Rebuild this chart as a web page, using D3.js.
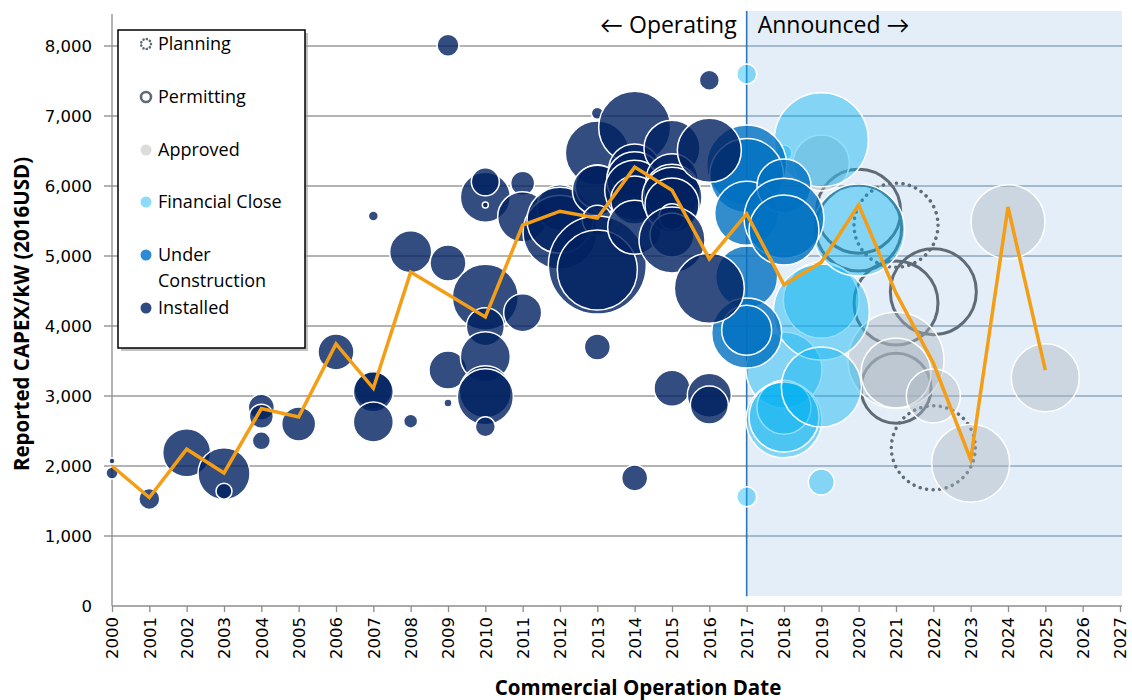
<!DOCTYPE html>
<html>
<head>
<script src="https://d3js.org/d3.v7.min.js"></script>
<style>
	body { margin: 0; background: #fff; }
	text { font-family: 'Open Sans', Lato, sans-serif; fill: #000; }
	.tick text { font-family: 'DejaVu Sans', sans-serif; font-size: 16.5px; }
	.legend text { font-size: 18px; }
</style>
</head>
<body>
<div id="chart"></div>
<script>
	// year, CAPEX per kW (2016 USD), size (MW)
	var installed = [
		[2000, 2070, 9], [2000, 1900, 36],
		[2001, 1530, 110],
		[2002, 2190, 576],
		[2003, 1890, 676], [2003, 1640, 64],
		[2004, 2840, 169], [2004, 2710, 144], [2004, 2360, 81],
		[2005, 2600, 289],
		[2006, 3630, 324],
		[2007, 3090, 361], [2007, 3060, 400], [2007, 2630, 400], [2007, 5570, 25],
		[2008, 5060, 441], [2008, 2640, 49],
		[2009, 8010, 121], [2009, 4900, 324], [2009, 3370, 361], [2009, 2900, 16],
		[2010, 5840, 625], [2010, 6060, 196], [2010, 5730, 9], [2010, 4410, 1089], [2010, 3990, 361],
		[2010, 3560, 625], [2010, 3060, 676], [2010, 2990, 784], [2010, 2560, 100],
		[2011, 6040, 144], [2011, 5560, 625], [2011, 4190, 361],
		[2012, 5690, 529], [2012, 5340, 1369], [2012, 5510, 1089],
		[2013, 7040, 36], [2013, 6470, 1024], [2013, 5990, 484], [2013, 5940, 625], [2013, 5510, 225],
		[2013, 4870, 2401], [2013, 4800, 1600], [2013, 3700, 169],
		[2014, 6840, 1296], [2014, 6230, 676], [2014, 6090, 784], [2014, 5940, 900], [2014, 5800, 576],
		[2014, 5410, 729], [2014, 1830, 169],
		[2015, 6540, 784], [2015, 6090, 676], [2015, 5910, 784], [2015, 5840, 900], [2015, 5730, 729],
		[2015, 5560, 169], [2015, 5300, 484], [2015, 5230, 1089], [2015, 3110, 324],
		[2016, 7510, 100], [2016, 6510, 1024], [2016, 4540, 1225], [2016, 3010, 484], [2016, 2870, 361]
	];
	var underConstruction = [
		[2017, 6300, 1600], [2017, 6150, 1369], [2017, 5610, 1024], [2017, 4700, 961],
		[2017, 3900, 1225], [2017, 3940, 625],
		[2018, 6000, 729], [2018, 5540, 1600], [2018, 5370, 1225]
	];
	var financialClose = [
		[2017, 7600, 100], [2017, 1560, 100],
		[2018, 6470, 64], [2018, 3370, 1444], [2018, 2660, 1444], [2018, 2840, 729], [2018, 2700, 1225],
		[2019, 6660, 2209], [2019, 4370, 1444], [2019, 4200, 2304], [2019, 3130, 1600], [2019, 1770, 169],
		[2020, 5370, 2116]
	];
	var approved = [
		[2019, 6330, 784],
		[2021, 3510, 2304], [2021, 3330, 1225],
		[2022, 3000, 729],
		[2023, 2040, 1521],
		[2024, 5490, 1369],
		[2025, 3260, 1156]
	];
	var permitting = [
		[2020, 5640, 1764], [2020, 5400, 1849],
		[2021, 4330, 1764], [2021, 3110, 1225],
		[2022, 4490, 1849]
	];
	var planning = [
		[2021, 5440, 1764], [2022, 2260, 1764]
	];
	// average CAPEX per year
	var avgYears = [2000, 2001, 2002, 2003, 2004, 2005, 2006, 2007, 2008, 2009, 2010, 2011, 2012,
		2013, 2014, 2015, 2016, 2017, 2018, 2019, 2020, 2021, 2022, 2023, 2024, 2025];
	var avgCapex = [2000, 1550, 2240, 1900, 2820, 2700, 3745, 3110, 4770, 4450, 4130, 5440, 5640,
		5540, 6270, 5940, 4960, 5600, 4590, 4910, 5730, 4470, 3470, 2090, 5700, 3370];
	var yTicks = [0, 1000, 2000, 3000, 4000, 5000, 6000, 7000, 8000];
	var xTicks = d3.range(2000, 2028);
	var legendItems = ["Planning", "Permitting", "Approved", "Financial Close", "Under Construction", "Installed"];

	var width = 1132, height = 700;
	var svg = d3.select("#chart").append("svg")
		.attr("width", width)
		.attr("height", height);

	var x = d3.scaleLinear().domain([2000, 2027]).range([112, 1120]);
	var y = d3.scaleLinear().domain([0, 8500]).range([606, 11]);
	var r = d3.scaleSqrt().domain([0, 2500]).range([0, 50]);

	var right = x(2027) + 2;

	// announced shading
	svg.append("rect")
		.attr("x", x(2017))
		.attr("y", y(8500))
		.attr("width", right - x(2017))
		.attr("height", y(140) - y(8500))
		.attr("fill", "#e4eef8");

	// gridlines: grey on operating side, blue grey on announced side
	var grid = svg.append("g");
	grid.selectAll("line.op")
		.data(yTicks.slice(1))
		.enter().append("line")
		.attr("class", "op")
		.attr("x1", 104).attr("x2", x(2017))
		.attr("y1", function(d){ return y(d); })
		.attr("y2", function(d){ return y(d); })
		.attr("stroke", "#9a9a9a")
		.attr("stroke-width", 1.3);
	grid.selectAll("line.an")
		.data(yTicks.slice(1))
		.enter().append("line")
		.attr("class", "an")
		.attr("x1", x(2017)).attr("x2", right)
		.attr("y1", function(d){ return y(d); })
		.attr("y2", function(d){ return y(d); })
		.attr("stroke", "#8ea7bf")
		.attr("stroke-width", 1.3);

	svg.append("line")
		.attr("x1", x(2017)).attr("x2", x(2017))
		.attr("y1", y(8500)).attr("y2", y(140))
		.attr("stroke", "#2e75b6")
		.attr("stroke-width", 1.6);

	// axes
	var yAxis = d3.axisLeft(y).tickValues(yTicks).tickSize(0).tickPadding(20)
		.tickFormat(d3.format(","));
	var gy = svg.append("g")
		.attr("transform", "translate(" + x(2000) + ",0)")
		.call(yAxis);
	gy.select(".domain").remove();

	var xAxis = d3.axisBottom(x).tickValues(xTicks).tickSize(6).tickFormat(d3.format("d"));
	var gx = svg.append("g")
		.attr("transform", "translate(0," + y(0) + ")")
		.call(xAxis);
	gx.select(".domain").remove();
	gx.selectAll(".tick line").attr("stroke", "#8c8c8c").attr("stroke-width", 1.3);
	gx.selectAll("text")
		.attr("transform", "rotate(-90)")
		.attr("text-anchor", "end")
		.attr("x", -11)
		.attr("y", 0)
		.attr("dy", "0.35em");

	svg.append("line")
		.attr("x1", x(2000)).attr("x2", x(2000))
		.attr("y1", 14).attr("y2", y(0))
		.attr("stroke", "#8c8c8c").attr("stroke-width", 1.3);
	svg.append("line")
		.attr("x1", x(2000)).attr("x2", right)
		.attr("y1", y(0)).attr("y2", y(0))
		.attr("stroke", "#8c8c8c").attr("stroke-width", 1.3);

	// bubbles, drawn in series order
	function bubbles(data, cls, fill, opacity, stroke, strokeWidth, dash) {
		var sel = svg.append("g").attr("class", cls).selectAll("circle")
			.data(data)
			.enter().append("circle")
			.attr("cx", function(d){ return x(d[0]); })
			.attr("cy", function(d){ return y(d[1]); })
			.attr("r", function(d){ return r(d[2]); })
			.attr("fill", fill)
			.attr("fill-opacity", opacity)
			.attr("stroke", stroke)
			.attr("stroke-width", strokeWidth);
		if (dash) {
			sel.attr("stroke-dasharray", dash).attr("stroke-linecap", "round");
		}
	}
	bubbles(planning, "planning", "none", 0, "#5f6b76", 3.5, "0.1 6.5");
	bubbles(permitting, "permitting", "none", 0, "#5f6b76", 3, null);
	bubbles(approved, "approved", "#a9b4be", 0.42, "#ffffff", 1.5, null);
	bubbles(financialClose, "fclose", "#00b0f0", 0.42, "#ffffff", 1.5, null);
	bubbles(underConstruction, "uc", "#0070c0", 0.8, "#ffffff", 1.5, null);
	bubbles(installed, "installed", "#002060", 0.8, "#ffffff", 1.5, null);

	// average line
	var line = d3.line()
		.x(function(d, i){ return x(avgYears[i]); })
		.y(function(d){ return y(d); });
	svg.append("path")
		.datum(avgCapex)
		.attr("d", line)
		.attr("fill", "none")
		.attr("stroke", "#f49e16")
		.attr("stroke-width", 3.5)
		.attr("stroke-linejoin", "miter");

	// operating / announced labels
	svg.append("text")
		.attr("x", x(2017) - 10).attr("y", 33)
		.attr("text-anchor", "end")
		.style("font-size", "23px")
		.text("\u2190 Operating");
	svg.append("text")
		.attr("x", x(2017) + 11).attr("y", 33)
		.style("font-size", "23px")
		.text("Announced \u2192");

	// axis titles
	svg.append("text")
		.attr("x", 638).attr("y", 695)
		.attr("text-anchor", "middle")
		.style("font-size", "20.5px")
		.style("font-weight", "bold")
		.text("Commercial Operation Date");
	svg.append("text")
		.attr("transform", "translate(29,314) rotate(-90)")
		.attr("text-anchor", "middle")
		.style("font-size", "20.5px")
		.style("font-weight", "bold")
		.text("Reported CAPEX/kW (2016USD)");

	// legend
	var legend = svg.append("g").attr("class", "legend");
	legend.append("rect")
		.attr("x", 121).attr("y", 33).attr("width", 187).attr("height", 318)
		.attr("fill", "#9a9a9a").attr("opacity", 0.6);
	legend.append("rect")
		.attr("x", 118).attr("y", 30).attr("width", 187).attr("height", 318)
		.attr("fill", "#fff").attr("stroke", "#000").attr("stroke-width", 1.5);

	var legendY = [44, 97, 150, 202, 255, 308];
	var markers = [
		{fill: "none", stroke: "#5f6b76", dash: "0.1 3.3", sw: 2.6},
		{fill: "none", stroke: "#5f6b76", dash: null, sw: 2.6},
		{fill: "#dcdcdc", stroke: "none", dash: null, sw: 0},
		{fill: "#8ddbf8", stroke: "none", dash: null, sw: 0},
		{fill: "#2f8bd3", stroke: "none", dash: null, sw: 0},
		{fill: "#2f4a80", stroke: "none", dash: null, sw: 0}
	];
	legendItems.forEach(function(name, i){
		var m = markers[i];
		var c = legend.append("circle")
			.attr("cx", 146).attr("cy", legendY[i])
			.attr("r", i < 2 ? 5 : 5.5)
			.attr("fill", m.fill)
			.attr("stroke", m.stroke)
			.attr("stroke-width", m.sw);
		if (m.dash) c.attr("stroke-dasharray", m.dash).attr("stroke-linecap", "round");
		var t = legend.append("text")
			.attr("x", 158).attr("y", legendY[i] + 6);
		if (name === "Under Construction") {
			t.text("Under");
			legend.append("text").attr("x", 158).attr("y", legendY[i] + 32).text("Construction");
		} else {
			t.text(name);
		}
	});
</script>
</body>
</html>
